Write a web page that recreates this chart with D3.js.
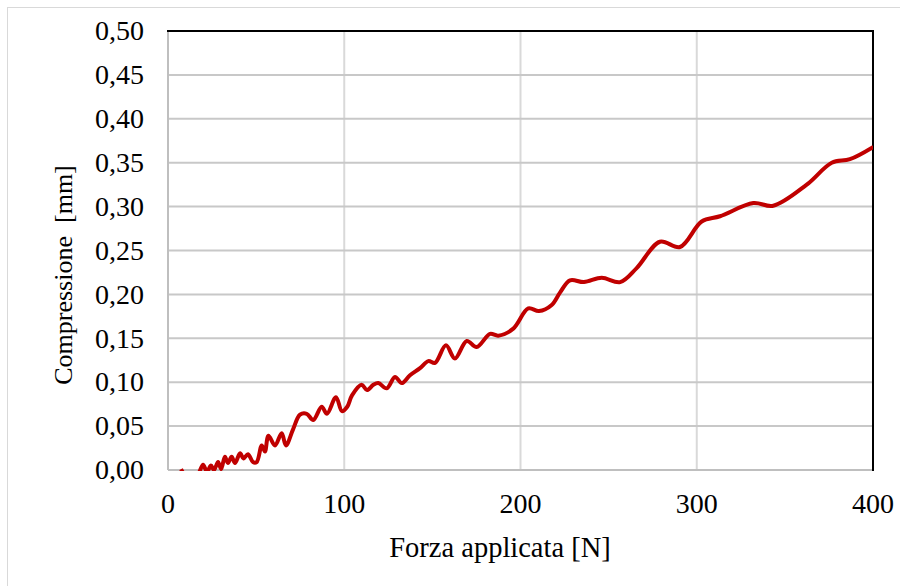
<!DOCTYPE html>
<html><head><meta charset="utf-8">
<script src="https://cdn.jsdelivr.net/npm/d3@7"></script>
<style>body{margin:0;background:#fff}svg{display:block}</style>
</head><body>
<script>
const forceN = [7.4,10.2,13.6,17.0,19.9,22.1,24.4,26.1,28.4,30.1,32.3,34.0,36.1,38.0,40.9,42.8,45.4,48.2,50.3,53.2,55.0,57.0,60.7,64.5,66.9,70.9,74.9,78.7,82.4,87.2,90.2,95.3,98.7,101.7,104.4,109.9,112.9,116.5,119.3,124.1,128.8,132.6,137.3,143.0,147.7,151.5,157.7,162.8,169.5,175.1,182.7,187.4,195.9,204.4,210.5,217.7,222.4,228.1,236.0,246.1,256.5,265.9,279.1,290.5,302.8,313.2,332.1,343.4,362.4,376.6,386.9,400.2];
const compressionMm = [0.001,-0.007,-0.009,-0.005,0.006,-0.002,0.005,0.000,0.009,0.001,0.015,0.008,0.015,0.008,0.019,0.013,0.018,0.009,0.009,0.028,0.021,0.039,0.028,0.042,0.028,0.046,0.063,0.064,0.057,0.072,0.064,0.083,0.067,0.072,0.085,0.097,0.091,0.097,0.099,0.093,0.106,0.099,0.108,0.116,0.124,0.122,0.142,0.127,0.147,0.140,0.155,0.153,0.161,0.184,0.181,0.188,0.202,0.216,0.214,0.219,0.214,0.230,0.260,0.254,0.283,0.289,0.304,0.301,0.325,0.350,0.354,0.368];
const xTicks = [0,100,200,300,400];
const yTicks = [0,0.05,0.10,0.15,0.20,0.25,0.30,0.35,0.40,0.45,0.50];
const xTitle = "Forza applicata [N]";
const yTitle = "Compressione\u00a0 [mm]";

const FONT = "'Liberation Serif', 'Times New Roman', Tinos, 'DejaVu Serif', serif";
const W = 900, H = 586;
const m = {l:168, r:27, t:31, b:116};
const svg = d3.select("body").append("svg").attr("width",W).attr("height",H);
svg.append("rect").attr("x",7.5).attr("y",7.5).attr("width",W).attr("height",H).attr("fill","#fff").attr("stroke","#d9d9d9").attr("stroke-width",1);

const x = d3.scaleLinear().domain([0,400]).range([m.l, W-m.r]);
const y = d3.scaleLinear().domain([0,0.5]).range([H-m.b, m.t]);
const fmt = d => d3.format(".2f")(d).replace(".",",");

// gridlines
svg.append("g").selectAll("line").data(xTicks.slice(1,-1)).join("line")
  .attr("x1",d=>x(d)).attr("x2",d=>x(d)).attr("y1",y(0)).attr("y2",y(0.5))
  .attr("stroke","#d9d9d9").attr("stroke-width",2);
svg.append("g").selectAll("line").data(yTicks.slice(1,-1)).join("line")
  .attr("x1",x(0)).attr("x2",x(400)).attr("y1",d=>y(d)).attr("y2",d=>y(d))
  .attr("stroke","#c8c8c8").attr("stroke-width",2);

// axes lines
svg.append("line").attr("x1",x(0)).attr("x2",x(0)).attr("y1",y(0)).attr("y2",y(0.5)).attr("stroke","#bfbfbf").attr("stroke-width",2);
svg.append("line").attr("x1",x(0)).attr("x2",x(400)).attr("y1",y(0)).attr("y2",y(0)).attr("stroke","#bfbfbf").attr("stroke-width",2);
svg.append("line").attr("x1",x(0)-1).attr("x2",x(400)+1).attr("y1",y(0.5)).attr("y2",y(0.5)).attr("stroke","#000").attr("stroke-width",2);
svg.append("line").attr("x1",x(400)).attr("x2",x(400)).attr("y1",y(0)+1).attr("y2",y(0.5)).attr("stroke","#000").attr("stroke-width",2);

// clip
svg.append("clipPath").attr("id","c").append("rect").attr("x",x(0)).attr("y",y(0.5)).attr("width",x(400)-x(0)).attr("height",y(0)-y(0.5)+1);

const data = forceN.map((f,i)=>[f,compressionMm[i]]);
const line = d3.line().x(d=>x(d[0])).y(d=>y(d[1])).curve(d3.curveCatmullRom.alpha(0.5));
svg.append("path").datum(data).attr("d",line).attr("fill","none").attr("stroke","#c00000").attr("stroke-width",4).attr("stroke-linejoin","round").attr("clip-path","url(#c)");

// tick labels
svg.append("g").selectAll("text").data(yTicks).join("text")
  .attr("font-family",FONT).attr("font-size",28)
  .attr("x",x(0)-24).attr("y",d=>y(d)).attr("dy","0.33em").attr("text-anchor","end")
  .text(fmt);
svg.append("g").selectAll("text").data(xTicks).join("text")
  .attr("font-family",FONT).attr("font-size",28)
  .attr("x",d=>x(d)).attr("y",y(0)+43).attr("text-anchor","middle")
  .text(d=>d);

svg.append("text").attr("font-family",FONT).attr("font-size",28.5)
  .attr("x",500).attr("y",557).attr("text-anchor","middle").text(xTitle);
svg.append("text").attr("font-family",FONT).attr("font-size",26)
  .attr("transform",`translate(72,275) rotate(-90)`).attr("text-anchor","middle").text(yTitle);
</script>
</body></html>
